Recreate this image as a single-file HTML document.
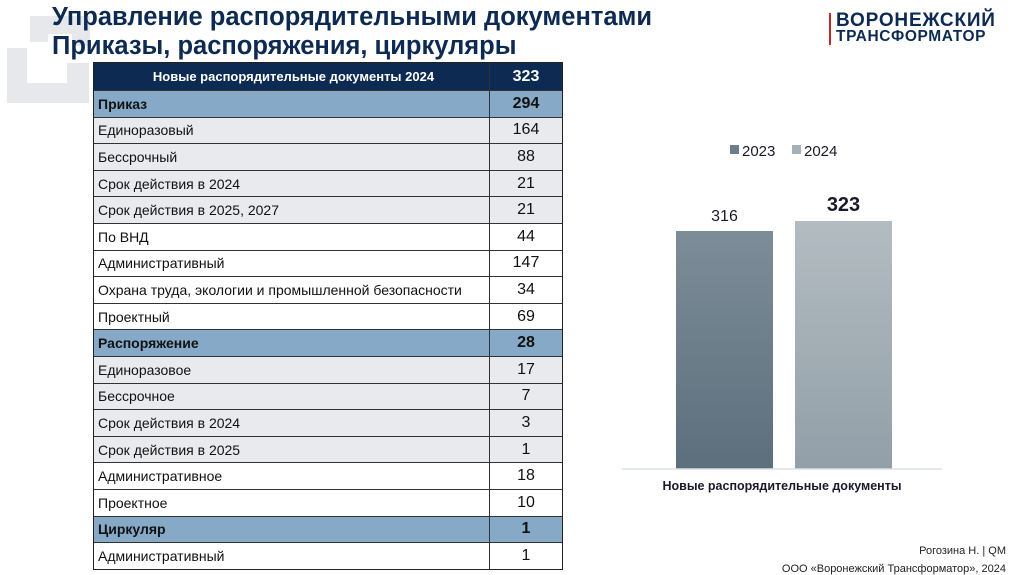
<!DOCTYPE html>
<html><head><meta charset="utf-8">
<style>
body{margin:0;width:1024px;height:574px;overflow:hidden;background:#fff;font-family:"Liberation Sans",sans-serif;position:relative}
.title{position:absolute;left:52px;top:3px;font-size:25.5px;font-weight:bold;color:#0d2a52;line-height:29px}
.tbl{position:absolute;left:93px;top:62px;width:470px;border:1.5px solid #222;box-sizing:border-box}
.row{display:flex;height:26.6px;border-top:1px solid #333;box-sizing:border-box;font-size:14px;color:#111}
.row:first-child{border-top:none}
.c1{flex:0 0 396px;border-right:1px solid #333;padding-left:4px;display:flex;align-items:center;box-sizing:border-box}
.c2{flex:1;display:flex;align-items:center;justify-content:center;font-size:16px}
.hdr{background:#0d2a52;color:#fff;font-weight:bold;height:27px}
.hdr .c1{justify-content:center;font-size:13px}
.sec{background:#86a9c8;font-weight:bold}
.g{background:#e9eaee}
.foot{position:absolute;right:18px;font-size:11px;color:#222}
</style></head><body>
<svg style="position:absolute;left:5px;top:8px" width="90" height="95"><path d="M25 8 h60 v30 h-18 v-12 h-24 v8 h-18z M2 40 h20 v35 h40 v-20 h22 v40 h-82z" fill="#e6e8ec"/></svg>
<div class="title">Управление распорядительными документами<br>Приказы, распоряжения, циркуляры</div>
<div style="position:absolute;left:829px;top:13px;border-left:2.5px solid #c0272d;padding-left:5px;color:#0d2a52;font-weight:bold;line-height:16px">
<div style="font-size:19px;letter-spacing:0.8px">ВОРОНЕЖСКИЙ</div><div style="font-size:15.5px;letter-spacing:0.6px">ТРАНСФОРМАТОР</div></div>
<div class="tbl" id="tbl"></div>
<svg id="chart" style="position:absolute;left:0;top:0" width="1024" height="574"></svg>
<div class="foot" style="top:545px">Рогозина Н. | QM</div>
<div class="foot" style="top:563px">ООО «Воронежский Трансформатор», 2024</div>
<script>
const rowLabels=["Приказ","Единоразовый","Бессрочный","Срок действия в 2024","Срок действия в 2025, 2027","По ВНД","Административный","Охрана труда, экологии и промышленной безопасности","Проектный","Распоряжение","Единоразовое","Бессрочное","Срок действия в 2024","Срок действия в 2025","Административное","Проектное","Циркуляр","Административный"];
const rowValues=[294,164,88,21,21,44,147,34,69,28,17,7,3,1,18,10,1,1];
const rowKinds=["s","g","g","g","g","w","w","w","w","s","g","g","g","g","w","w","s","w"];
const tbl=document.getElementById('tbl');
let h=document.createElement('div');h.className='row hdr';


h.innerHTML='<div class="c1">Новые распорядительные документы 2024</div><div class="c2">323</div>';
tbl.appendChild(h);
rowLabels.forEach((l,i)=>{const r=document.createElement('div');
r.className='row'+(rowKinds[i]=='s'?' sec':rowKinds[i]=='g'?' g':'');


r.innerHTML='<div class="c1">'+l+'</div><div class="c2">'+rowValues[i]+'</div>';tbl.appendChild(r);});

const categories=["2023","2024"];
const values=[316,323];
const NS='http://www.w3.org/2000/svg';
const svg=document.getElementById('chart');
const base=469, axisMin=149.4, scale=238/(316-149.4);
const y=v=>base-(v-axisMin)*scale;
const xs=[676,795], bw=97;
svg.innerHTML='<defs><linearGradient id="g0" x1="0" y1="0" x2="0" y2="1"><stop offset="0" stop-color="#7d8d98"/><stop offset="1" stop-color="#5c6f7c"/></linearGradient><linearGradient id="g1" x1="0" y1="0" x2="0" y2="1"><stop offset="0" stop-color="#b3bcc1"/><stop offset="1" stop-color="#929fa8"/></linearGradient></defs>';
function el(t,a,txt){const e=document.createElementNS(NS,t);for(const k in a)e.setAttribute(k,a[k]);if(txt!=null)e.textContent=txt;svg.appendChild(e);return e;}
values.forEach((v,i)=>{
const b=el('rect',{x:xs[i],y:y(v),width:bw,height:base-y(v),fill:'url(#g'+i+')'});


const t=el('text',{x:xs[i]+bw/2,y:y(v)-10,'text-anchor':'middle','font-size':i?20:16,'font-weight':i?'bold':'normal',fill:'#1a1a2a','font-family':'Liberation Sans'},v);


});
const ax=el('line',{x1:622,x2:942,y1:base,y2:base,stroke:'#dcdfe5','stroke-width':1.5});


const cl=el('text',{x:782,y:490,'text-anchor':'middle','font-size':12.5,'font-weight':'bold',fill:'#1a1a2a','font-family':'Liberation Sans'},'Новые распорядительные документы');


const lx=[730,792],lc=['#6c7e8a','#a6b1b7'];
categories.forEach((c,i)=>{
const s=el('rect',{x:lx[i],y:145,width:9,height:9,fill:lc[i]});


const t=el('text',{x:lx[i]+12,y:156,'font-size':15,fill:'#1a1a2a','font-family':'Liberation Sans'},c);


});
</script>
</body></html>
